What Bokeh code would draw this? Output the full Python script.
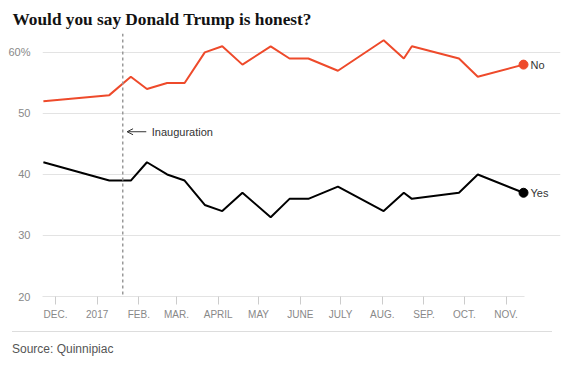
from datetime import datetime, timedelta
import pandas as pd
from bokeh.plotting import figure
from bokeh.models import ColumnDataSource, FixedTicker, Span, Label, Arrow, OpenHead, Div, Range1d
from bokeh.layouts import column
from bokeh.embed import file_html
from bokeh.resources import INLINE

# ---- data ----
poll_dates = ["2016-11-22", "2017-01-10", "2017-01-26", "2017-02-07", "2017-02-22",
              "2017-03-07", "2017-03-22", "2017-04-04", "2017-04-19", "2017-05-10",
              "2017-05-24", "2017-06-07", "2017-06-29", "2017-08-02", "2017-08-17",
              "2017-08-23", "2017-09-27", "2017-10-11", "2017-11-14"]
no_values = [52, 53, 56, 54, 55, 55, 60, 61, 58, 61, 59, 59, 57, 62, 59, 61, 59, 56, 58]
yes_values = [42, 39, 39, 42, 40, 39, 35, 34, 37, 33, 36, 36, 38, 34, 37, 36, 37, 40, 37]

tick_dates = ["2016-12-01", "2017-01-01", "2017-02-01", "2017-03-01", "2017-04-01",
              "2017-05-01", "2017-06-01", "2017-07-01", "2017-08-01", "2017-09-01",
              "2017-10-01", "2017-11-01"]
tick_labels = ["DEC.", "2017", "FEB.", "MAR.", "APRIL", "MAY", "JUNE", "JULY",
               "AUG.", "SEP.", "OCT.", "NOV."]
y_ticks = [20, 30, 40, 50, 60]
y_tick_labels = ["20", "30", "40", "50", "60%"]
series_names = ["No", "Yes"]
inauguration_date = "2017-01-20"
title_text = "Would you say Donald Trump is honest?"
source_text = "Source: Quinnipiac"

RED = "#ee4a2b"
BLACK = "#000000"

dates = pd.to_datetime(poll_dates)
src = ColumnDataSource(dict(date=dates, no=no_values, yes=yes_values))


def ms(d):
    return int(pd.Timestamp(d).value // 10**6)


x_start = datetime(2016, 11, 21, 8)
x_end = datetime(2017, 12, 11, 12)
grid_end = datetime(2017, 11, 14, 17)

p = figure(width=572, height=326, x_axis_type="datetime",
           x_range=Range1d(x_start, x_end),
           y_range=Range1d(20, 63.1),
           output_backend="svg", toolbar_location=None,
           min_border_left=42, min_border_right=12, min_border_top=33,
           min_border_bottom=30)
p.outline_line_color = None
p.background_fill_color = "white"
p.border_fill_color = "white"

# title
p.title.text = title_text
p.title.text_font = "Liberation Serif"
p.title.text_font_size = "17.3px"
p.title.text_font_style = "bold"
p.title.text_color = "#121212"
p.title.align = "left"
p.title.offset = -30
p.title.standoff = 9

# grids
p.xgrid.grid_line_color = None
p.ygrid.ticker = FixedTicker(ticks=y_ticks)
p.ygrid.grid_line_color = "#e3e3e3"
p.ygrid.grid_line_width = 1
p.ygrid.bounds = (ms(x_start), ms(grid_end))

# y axis
p.yaxis.ticker = FixedTicker(ticks=y_ticks)
p.yaxis.major_label_overrides = {t: l for t, l in zip(y_ticks, y_tick_labels)}
p.yaxis.axis_line_color = None
p.yaxis.major_tick_line_color = None
p.yaxis.minor_tick_line_color = None
p.yaxis.major_label_standoff = 6
p.yaxis.major_label_text_font = "Liberation Sans"
p.yaxis.major_label_text_font_size = "11px"
p.yaxis.major_label_text_color = "#888888"

# x axis
x_ticks = [ms(d) for d in tick_dates]
p.xaxis.ticker = FixedTicker(ticks=x_ticks)
p.xaxis.major_label_overrides = {t: l for t, l in zip(x_ticks, tick_labels)}
p.xaxis.bounds = (ms(x_start), ms(grid_end))
p.xaxis.axis_line_color = "#e3e3e3"
p.xaxis.major_tick_line_color = "#cccccc"
p.xaxis.major_tick_out = 8
p.xaxis.major_tick_in = 0
p.xaxis.minor_tick_line_color = None
p.xaxis.major_label_standoff = 4
p.xaxis.major_label_text_font = "Liberation Sans"
p.xaxis.major_label_text_font_size = "10px"
p.xaxis.major_label_text_color = "#888888"

# inauguration marker
inaug = pd.Timestamp(inauguration_date)
p.add_layout(Span(location=ms(inaug), dimension="height", line_color="#999999",
                  line_dash="3 3", line_width=1.5))
p.add_layout(Arrow(x_start=ms(inaug + timedelta(days=17.5)), y_start=47,
                   x_end=ms(inaug + timedelta(days=3.2)), y_end=47,
                   line_color="#333333", line_width=1,
                   end=OpenHead(size=6, line_width=1, line_color="#333333")))
p.add_layout(Label(x=ms(inaug), y=47, x_offset=29, text="Inauguration",
                   text_baseline="middle", text_font="Liberation Sans",
                   text_font_size="11px", text_color="#333333"))

# lines
p.line("date", "no", source=src, line_color=RED, line_width=2)
p.line("date", "yes", source=src, line_color=BLACK, line_width=2)

# end dots + labels
end_vals = [no_values[-1], yes_values[-1]]
end_colors = [RED, BLACK]
end_src = ColumnDataSource(dict(date=[dates[-1]] * 2, val=end_vals, color=end_colors))
p.scatter("date", "val", source=end_src, size=9, fill_color="color", line_color="color")
for name, v in zip(series_names, end_vals):
    p.add_layout(Label(x=ms(dates[-1]), y=v, x_offset=7, text=name,
                       text_baseline="middle", text_font="Liberation Sans",
                       text_font_size="11px", text_color="#333333"))

source_div = Div(text=source_text, width=540, margin=(5, 0, 0, 12),
                 styles={"border-top": "1px solid #dddddd", "padding-top": "9px",
                         "font-family": "Liberation Sans, Arial, sans-serif",
                         "font-size": "12px", "color": "#555555"})

layout = column(p, source_div, spacing=0)

open("out.html", "w").write(file_html(layout, INLINE))
